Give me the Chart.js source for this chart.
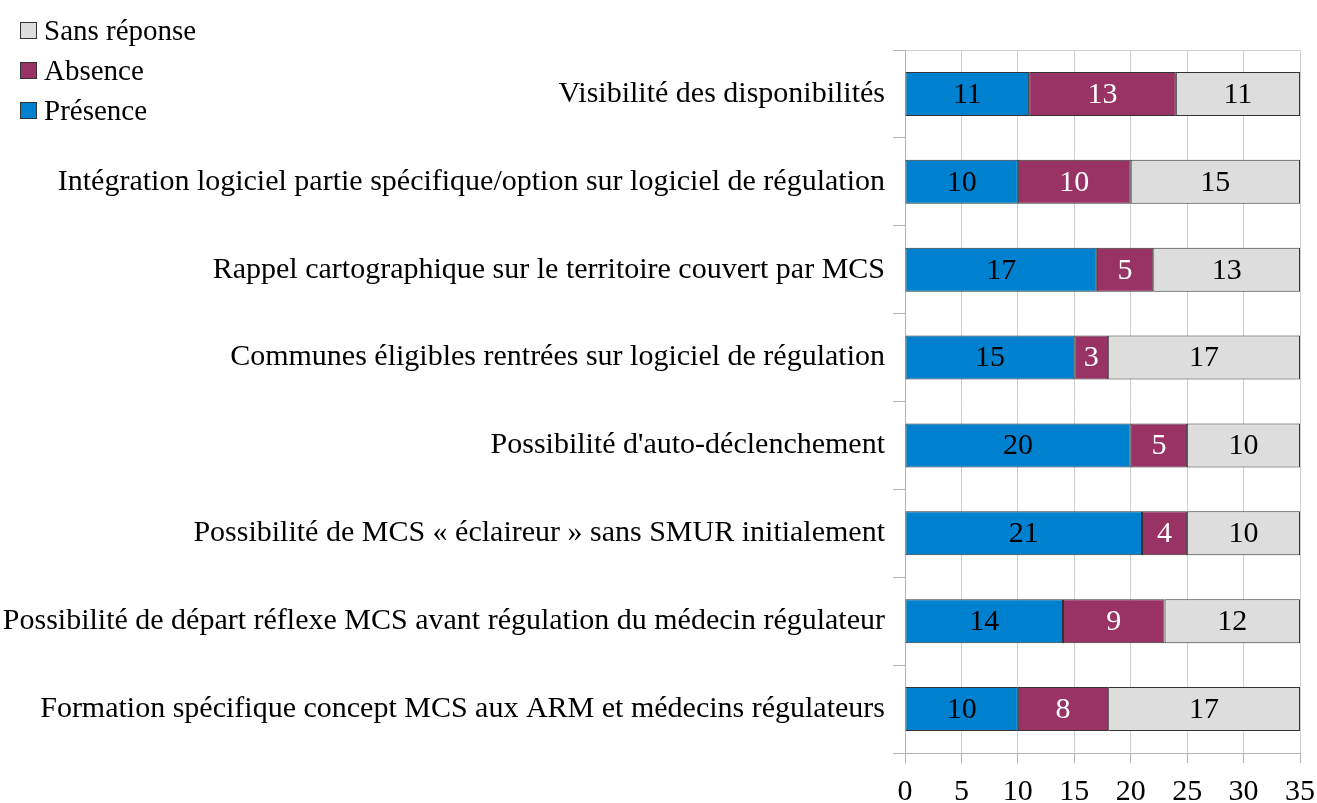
<!DOCTYPE html>
<html>
<head>
<meta charset="utf-8">
<script src="https://cdn.jsdelivr.net/npm/chart.js@4/dist/chart.umd.min.js"></script>
<style>
  body { margin: 0; background: #fff; }
  #wrap { position: relative; width: 1317px; height: 803px; }
  #legend { position: absolute; left: 20px; top: 10px; font-family: "Liberation Serif", "Times New Roman", serif; font-size: 29px; color: #000; }
  #legend div { height: 40px; line-height: 36px; display: flex; align-items: center; }
  #legend span.box { display: inline-block; width: 15px; height: 15px; border: 1px solid #333; margin-right: 7px; }
</style>
</head>
<body>
<div id="wrap">
  <canvas id="chart"></canvas>
  <div id="legend"></div>
</div>
<script>
const categories = [
  'Visibilité des disponibilités',
  'Intégration logiciel partie spécifique/option sur logiciel de régulation',
  'Rappel cartographique sur le territoire couvert par MCS',
  'Communes éligibles rentrées sur logiciel de régulation',
  "Possibilité d'auto-déclenchement",
  'Possibilité de MCS « éclaireur » sans SMUR initialement',
  'Possibilité de départ réflexe MCS avant régulation du médecin régulateur',
  'Formation spécifique concept MCS aux ARM et médecins régulateurs'
];
const presence    = [11, 10, 17, 15, 20, 21, 14, 10];
const absence     = [13, 10, 5, 3, 5, 4, 9, 8];
const sansReponse = [11, 15, 13, 17, 10, 10, 12, 17];
const xTicks = [0, 5, 10, 15, 20, 25, 30, 35];

const FONT = '"Liberation Serif", "Times New Roman", serif';
const series = [
  { label: 'Présence', data: presence, color: '#0081cf', text: '#000' },
  { label: 'Absence', data: absence, color: '#993366', text: '#fff' },
  { label: 'Sans réponse', data: sansReponse, color: '#dddddd', text: '#000' }
];

// labels in the middle of each segment
const barLabels = {
  id: 'barLabels',
  afterDatasetsDraw(chart) {
    const ctx = chart.ctx;
    ctx.save();
    ctx.font = '30px ' + FONT;
    ctx.textAlign = 'center';
    ctx.textBaseline = 'middle';
    chart.data.datasets.forEach((ds, i) => {
      chart.getDatasetMeta(i).data.forEach((bar, j) => {
        ctx.fillStyle = series[i].text;
        ctx.fillText(ds.data[j], (bar.x + bar.base) / 2, bar.y + 1);
      });
    });
    ctx.restore();
  }
};

const chart = new Chart(document.getElementById('chart'), {
  type: 'bar',
  data: {
    labels: categories,
    datasets: series.map(s => ({
      label: s.label,
      data: s.data,
      backgroundColor: s.color,
      borderColor: '#333',
      borderWidth: 1,
      borderSkipped: false,
      barPercentage: 0.5,
      categoryPercentage: 1
    }))
  },
  options: {
    indexAxis: 'y',
    responsive: true,
    maintainAspectRatio: false,
    animation: false,
    layout: { padding: { top: 50, right: 0, left: 0, bottom: 0 } },
    plugins: { legend: { display: false }, tooltip: { enabled: false } },
    scales: {
      x: {
        stacked: true,
        min: 0, max: 35,
        afterBuildTicks: s => { s.ticks = xTicks.map(v => ({ value: v })); },
        afterFit: s => { s.height = 50; s.paddingRight = 17; },
        ticks: { color: '#000', font: { family: FONT, size: 30 }, padding: 11, maxRotation: 0 },
        grid: { color: '#d0d0d0', tickColor: '#b3b3b3', tickLength: 10 },
        border: { color: '#b3b3b3' }
      },
      y: {
        stacked: true,
        afterFit: s => { s.width = 905; },
        ticks: { color: '#000', font: { family: FONT, size: 30 }, padding: 8, autoSkip: false },
        grid: {
          offset: true,
          color: c => c.index === 0 ? '#d0d0d0' : 'transparent',
          tickColor: '#b3b3b3',
          tickLength: 12
        },
        border: { color: '#b3b3b3' }
      }
    }
  },
  plugins: [barLabels]
});

const legend = document.getElementById('legend');
series.slice().reverse().forEach(s => {
  const row = document.createElement('div');
  row.innerHTML = '<span class="box" style="background:' + s.color + '"></span>' + s.label;
  legend.appendChild(row);
});
</script>
</body>
</html>
